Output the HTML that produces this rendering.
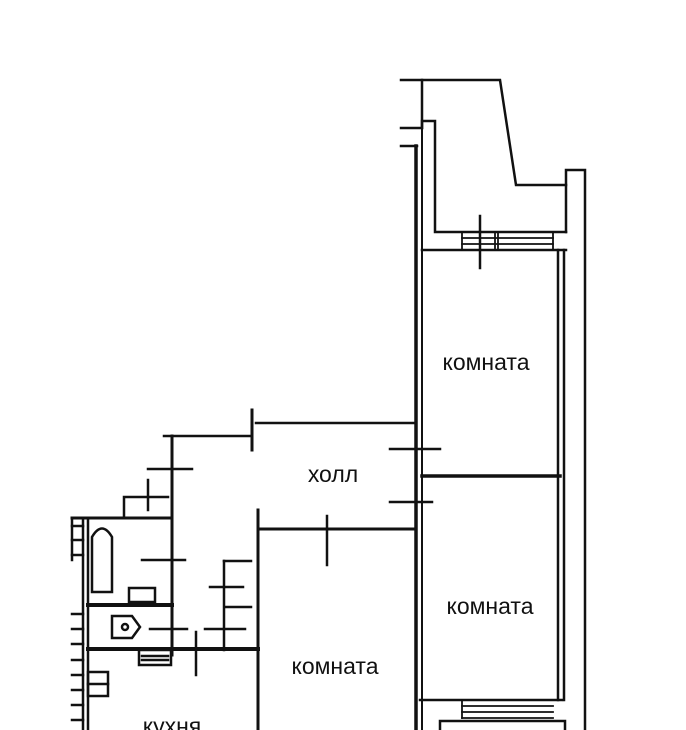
<!DOCTYPE html>
<html><head><meta charset="utf-8"><style>
html,body{margin:0;padding:0;background:#fff;}
svg{display:block}
text{font-family:"Liberation Sans","DejaVu Sans",sans-serif;font-size:23px;fill:#111}
</style></head><body>
<svg width="686" height="730" viewBox="0 0 686 730" xmlns="http://www.w3.org/2000/svg">
<g stroke="#111" fill="none" stroke-width="2.5" stroke-linecap="square">
<polyline points="401,80 500,80 516,185 566,185"/>
<polyline points="401,128 422,128 422,80"/>
<polyline points="422,128 422,121 435,121 435,232 566,232"/>
<polyline points="401,146 417,146"/>
<polyline points="566,232 566,170 585,170 585,730"/>
<line x1="422" y1="250" x2="566" y2="250"/>
<line x1="422" y1="128" x2="422" y2="730" stroke-width="2"/>
<line x1="416" y1="146" x2="416" y2="730" stroke-width="3.5"/>
<g stroke-width="1.8">
<line x1="462" y1="238" x2="553" y2="238"/>
<line x1="462" y1="244" x2="553" y2="244"/>
<line x1="462" y1="232" x2="462" y2="250"/>
<line x1="495" y1="232" x2="495" y2="250"/>
<line x1="498" y1="232" x2="498" y2="250"/>
<line x1="553" y1="232" x2="553" y2="250"/>
</g>
<line x1="480" y1="216" x2="480" y2="268"/>
<line x1="558" y1="250" x2="558" y2="700"/>
<line x1="564" y1="250" x2="564" y2="700"/>
<line x1="422" y1="476" x2="560" y2="476" stroke-width="3.5"/>
<line x1="420" y1="700" x2="562" y2="700"/>
<g stroke-width="1.8">
<line x1="462" y1="700" x2="462" y2="718"/>
<line x1="462" y1="706" x2="553" y2="706"/>
<line x1="462" y1="712" x2="553" y2="712"/>
<line x1="462" y1="718" x2="553" y2="718"/>
</g>
<polyline points="440,730 440,721 565,721 565,730"/>
<polyline points="164,436 250,436"/>
<line x1="252" y1="410" x2="252" y2="450" stroke-width="3"/>
<line x1="256" y1="423" x2="416" y2="423"/>
<line x1="390" y1="449" x2="440" y2="449"/>
<line x1="390" y1="502" x2="432" y2="502"/>
<line x1="258" y1="529" x2="416" y2="529" stroke-width="3"/>
<line x1="258" y1="510" x2="258" y2="730" stroke-width="3"/>
<line x1="327" y1="516" x2="327" y2="565"/>
<line x1="172" y1="436" x2="172" y2="655" stroke-width="3"/>
<line x1="148" y1="469" x2="192" y2="469"/>
<line x1="148" y1="480" x2="148" y2="510"/>
<polyline points="124,518 124,497 168,497"/>
<line x1="142" y1="560" x2="185" y2="560"/>
<polyline points="224,561 251,561"/>
<line x1="224" y1="561" x2="224" y2="650"/>
<line x1="210" y1="587" x2="243" y2="587"/>
<line x1="226" y1="607" x2="251" y2="607"/>
<line x1="205" y1="629" x2="245" y2="629"/>
<line x1="150" y1="629" x2="187" y2="629"/>
<line x1="72" y1="518" x2="172" y2="518" stroke-width="3"/>
<line x1="83" y1="518" x2="83" y2="730"/>
<line x1="88" y1="518" x2="88" y2="730" stroke-width="2.5"/>
<path d="M92,592 V537 Q102,520 112,537 V592 Z"/>
<rect x="129" y="588" width="26" height="14"/>
<line x1="88" y1="605" x2="172" y2="605" stroke-width="4"/>
<path d="M112,616 H132 L140,627 L132,638 H112 Z"/>
<circle cx="125" cy="627" r="3"/>
<line x1="88" y1="649" x2="258" y2="649" stroke-width="4"/>
<line x1="196" y1="632" x2="196" y2="675"/>
<rect x="139" y="650" width="32" height="15"/>
<line x1="142" y1="656" x2="168" y2="656"/>
<line x1="142" y1="660" x2="168" y2="660"/>
<rect x="88" y="672" width="20" height="24"/>
<line x1="88" y1="684" x2="108" y2="684"/>
<g stroke-width="2.5">
<line x1="72" y1="526" x2="83" y2="526"/><line x1="72" y1="540" x2="83" y2="540"/><line x1="72" y1="555" x2="83" y2="555"/>
<line x1="72" y1="614" x2="83" y2="614"/><line x1="72" y1="629" x2="83" y2="629"/><line x1="72" y1="644" x2="83" y2="644"/>
<line x1="72" y1="660" x2="83" y2="660"/><line x1="72" y1="675" x2="83" y2="675"/><line x1="72" y1="690" x2="83" y2="690"/>
<line x1="72" y1="705" x2="83" y2="705"/><line x1="72" y1="720" x2="83" y2="720"/>
</g>
<line x1="72" y1="518" x2="72" y2="560"/>
</g>
<text x="486" y="370" text-anchor="middle">комната</text>
<text x="490" y="614" text-anchor="middle">комната</text>
<text x="335" y="674" text-anchor="middle">комната</text>
<text x="333" y="482" text-anchor="middle">холл</text>
<text x="172" y="734" text-anchor="middle">кухня</text>
</svg>
</body></html>
